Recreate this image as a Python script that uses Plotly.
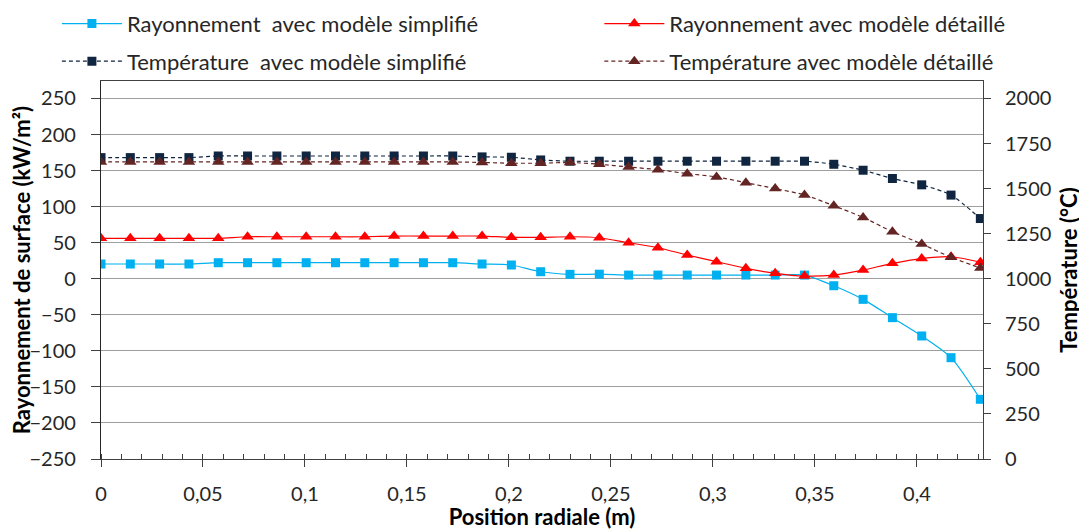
import plotly.graph_objects as go

# ---------------- data ----------------
step = 0.01437
positions = [round(i * step, 5) for i in range(31)]

ray_simplifie = [20.4, 20.4, 20.4, 20.4, 22.2, 22.2, 22.2, 22.2, 22.2, 22.2, 22.2, 22.2, 22.2,
                 20.4, 19.0, 9.7, 6.1, 6.3, 5.1, 5.1, 5.1, 5.1, 5.1, 5.1, 5.1,
                 -9.7, -28.6, -54.0, -79.4, -109.5, -167.2]
ray_detaille = [56.0, 56.0, 56.0, 56.0, 56.0, 58.2, 58.2, 58.2, 58.2, 58.2, 59.2, 59.2, 59.2,
                59.2, 57.4, 57.4, 58.2, 56.8, 49.9, 43.0, 32.9, 23.6, 14.4, 7.5, 3.7,
                5.1, 12.0, 21.3, 28.0, 30.5, 23.0]
temp_simplifie = [1672, 1672, 1672, 1672, 1681, 1681, 1681, 1681, 1681, 1681, 1681, 1681, 1681,
                  1676, 1674, 1659, 1652, 1652, 1652, 1652, 1652, 1652, 1652, 1652, 1652,
                  1635, 1602, 1556, 1521, 1464, 1334]
temp_detaille = [1648, 1648, 1648, 1648, 1648, 1648, 1648, 1648, 1648, 1648, 1648, 1648, 1648,
                 1645, 1641, 1641, 1645, 1635, 1620, 1605, 1583, 1565, 1533, 1500, 1465,
                 1405, 1340, 1261, 1193, 1119, 1060]

x_ticks = [0, 0.05, 0.1, 0.15, 0.2, 0.25, 0.3, 0.35, 0.4]
left_ticks = list(range(-250, 251, 50))
right_ticks = list(range(0, 2001, 250))

# ---------------- styling ----------------
FONT = "Lato"
TXT = "#262626"
C_CYAN = "#00B0F0"
C_RED = "#FF0000"
C_NAVY = "#10253F"
C_BROWN = "#632523"

fig = go.Figure()

fig.add_trace(go.Scatter(
    x=positions, y=ray_simplifie, name="Rayonnement  avec modèle simplifié",
    mode="lines+markers", line=dict(color=C_CYAN, width=1.2, shape="spline", smoothing=0.7),
    marker=dict(symbol="square", size=9, color=C_CYAN),
    legend="legend", legendgroup="a", yaxis="y"))
fig.add_trace(go.Scatter(
    x=positions, y=temp_simplifie, name="Température  avec modèle simplifié",
    mode="lines+markers", line=dict(color=C_NAVY, width=1.2, dash="4px,3px", shape="spline", smoothing=0.7),
    marker=dict(symbol="square", size=9, color=C_NAVY),
    legend="legend", legendgroup="b", yaxis="y2"))
fig.add_trace(go.Scatter(
    x=positions, y=ray_detaille, name="Rayonnement avec modèle détaillé",
    mode="lines+markers", line=dict(color=C_RED, width=1.2, shape="spline", smoothing=0.7),
    marker=dict(symbol="triangle-up", size=11, color=C_RED),
    legend="legend2", legendgroup="c", yaxis="y"))
fig.add_trace(go.Scatter(
    x=positions, y=temp_detaille, name="Température avec modèle détaillé",
    mode="lines+markers", line=dict(color=C_BROWN, width=1.2, dash="4px,3px", shape="spline", smoothing=0.7),
    marker=dict(symbol="triangle-up", size=11, color=C_BROWN),
    legend="legend2", legendgroup="d", yaxis="y2"))

legend_common = dict(
    orientation="v", yanchor="top", xanchor="left",
    font=dict(family=FONT, size=22, color=TXT),
    bgcolor="rgba(0,0,0,0)", itemwidth=60, tracegroupgap=6,
    traceorder="grouped",
)

# the page body adds an 8px offset; the figure is sized so the plot lands where the reference has it
fig.update_layout(
    width=1079, height=522,
    margin=dict(l=93, r=104, t=73, b=71, autoexpand=False),
    paper_bgcolor="white", plot_bgcolor="white",
    separators=", ",
    font=dict(family=FONT, size=20, color=TXT),
    legend=dict(x=-0.05, y=1.207, **legend_common),
    legend2=dict(x=0.565, y=1.207, **legend_common),
    xaxis=dict(
        range=[0, 0.4324], tickvals=x_ticks,
        showgrid=False, zeroline=False, automargin=False,
        showline=True, linecolor="#404040", linewidth=1, mirror=True,
        ticks="outside", ticklen=7, tickcolor="#404040",
        ticklabelstandoff=10,
        minor=dict(dtick=0.01, tick0=0, ticks="inside", ticklen=5, tickcolor="#404040", showgrid=False),
        tickfont=dict(family=FONT, size=20, color=TXT),
        title=dict(text="<b>Position radiale (m)</b>", font=dict(family=FONT, size=22, color="#000000"), standoff=3),
    ),
    yaxis=dict(
        range=[-250, 274.2], tickvals=left_ticks,
        showgrid=True, gridcolor="#9E9E9E", gridwidth=1, zeroline=False, automargin=False,
        showline=True, linecolor="#262626", linewidth=1.2,
        ticks="outside", ticklen=9, tickcolor="#404040",
        ticklabelstandoff=11,
        tickfont=dict(family=FONT, size=20, color=TXT),
        title=dict(text="<b>Rayonnement de surface (kW/m²)</b>", font=dict(family=FONT, size=22, color="#000000"), standoff=1),
    ),
    yaxis2=dict(
        overlaying="y", side="right",
        range=[0, 2097], tickvals=right_ticks,
        showgrid=False, zeroline=False, automargin=False,
        showline=True, linecolor="#404040", linewidth=1,
        ticks="outside", ticklen=7, tickcolor="#404040",
        ticklabelstandoff=10,
        tickfont=dict(family=FONT, size=20, color=TXT),
        title=dict(text="<b>Température (°C)</b>", font=dict(family=FONT, size=22, color="#000000"), standoff=11),
    ),
)

fig.write_html("out.html")
